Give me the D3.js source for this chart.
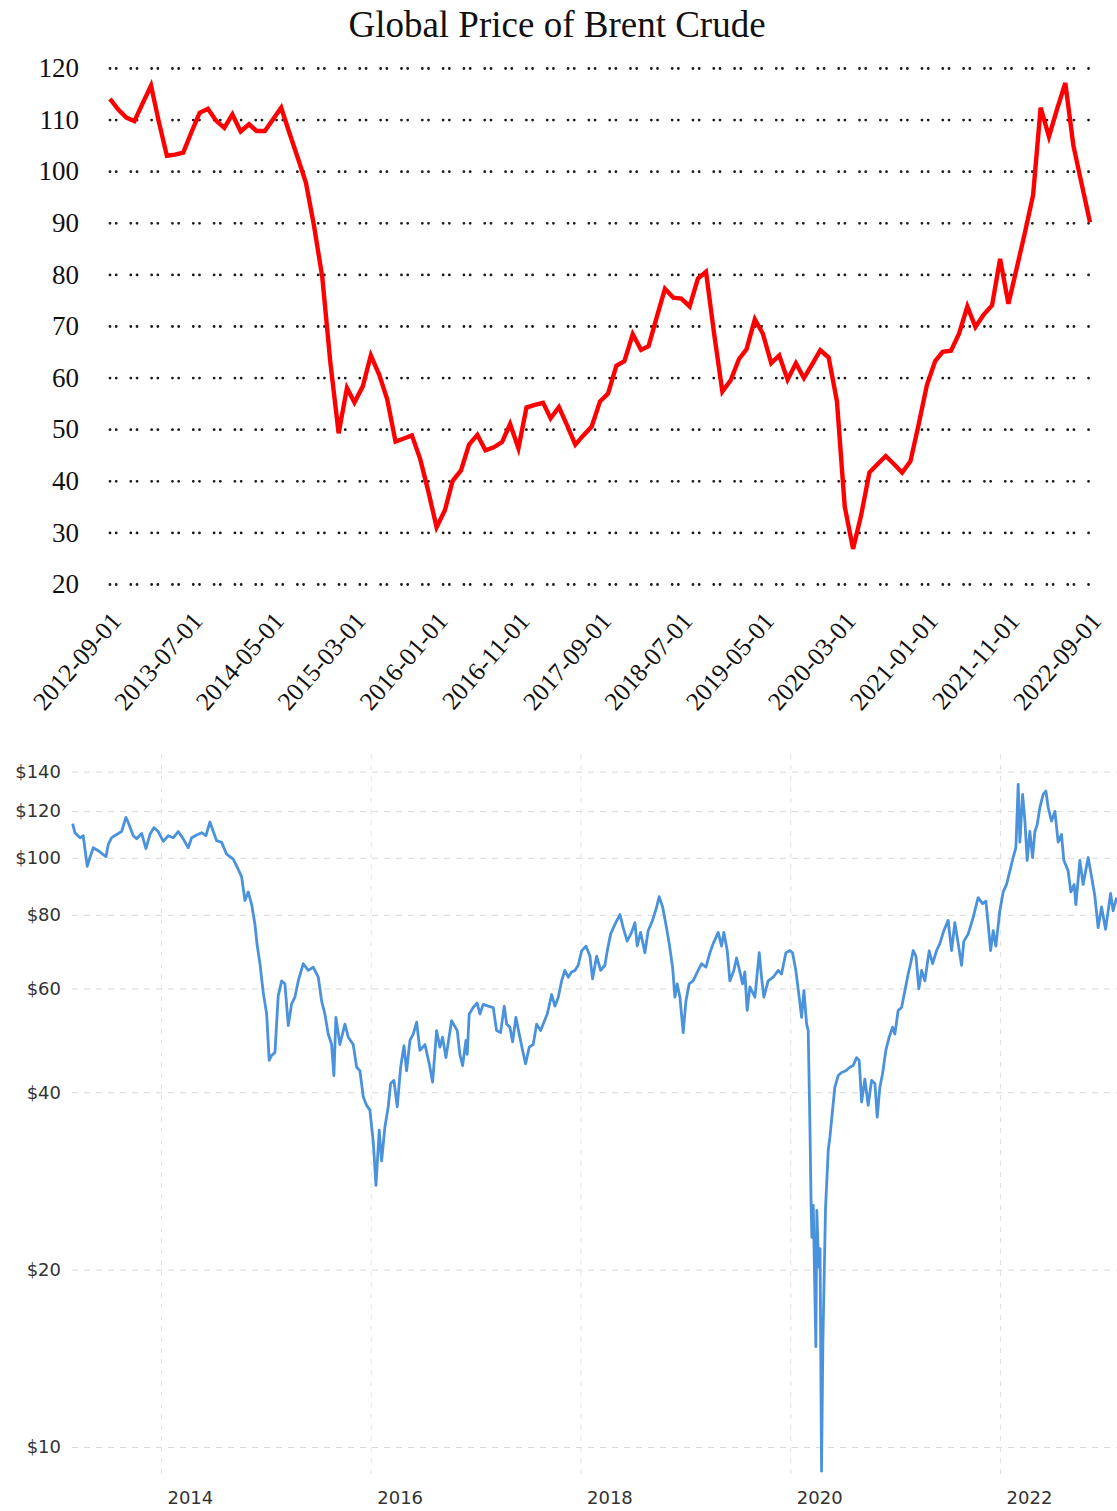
<!DOCTYPE html>
<html>
<head>
<meta charset="utf-8">
<script src="https://cdn.jsdelivr.net/npm/d3@7"></script>
<style>
body { margin: 0; background: #fff; }
svg { display: block; }
</style>
</head>
<body>
<svg id="chart" width="1117" height="1511"></svg>
<script>
// ---- top chart: monthly Brent, Sep 2012 .. Sep 2022
const topTitle = "Global Price of Brent Crude";
const topStart = "2012-09-01";
const topValues = [
  114.0, 112.0, 110.4, 109.7, 113.2, 116.6, 109.8, 103.0, 103.2, 103.6,
  107.5, 111.3, 112.1, 109.8, 108.4, 111.0, 107.7, 109.1, 107.8, 107.8,
  110.0, 112.3, 107.5, 102.7, 97.8, 89.5, 79.5, 63.0, 49.2, 58.0,
  55.2, 58.3, 64.3, 60.6, 55.8, 47.6, 48.2, 48.8, 44.2, 38.0,
  31.0, 34.3, 40.0, 42.0, 47.0, 48.9, 45.9, 46.5, 47.5, 51.0,
  46.3, 54.2, 54.7, 55.1, 52.1, 54.3, 50.8, 47.0, 48.8, 50.5,
  55.4, 56.9, 62.3, 63.2, 68.4, 65.4, 66.1, 71.8, 77.2, 75.5,
  75.3, 73.8, 79.2, 80.5, 68.2, 57.3, 59.5, 63.6, 65.5, 71.3,
  68.5, 62.8, 64.3, 59.6, 62.8, 59.9, 62.6, 65.3, 63.9, 55.4,
  35.0, 26.8, 33.3, 41.6, 43.2, 44.8, 43.2, 41.6, 43.8, 50.8,
  58.5, 63.2, 65.0, 65.2, 68.5, 73.8, 69.8, 72.2, 74.0, 83.0,
  74.3, 81.0, 88.0, 95.4, 112.3, 106.7, 112.0, 117.1, 105.0, 97.5,
  90.1
];
const topXTicks = ["2012-09-01", "2013-07-01", "2014-05-01", "2015-03-01", "2016-01-01",
  "2016-11-01", "2017-09-01", "2018-07-01", "2019-05-01", "2020-03-01",
  "2021-01-01", "2021-11-01", "2022-09-01"];
const topYTicks = [20, 30, 40, 50, 60, 70, 80, 90, 100, 110, 120];

// ---- bottom chart: daily-ish Brent (decimal year, USD)
const botYears = [
  2013.158, 2013.180, 2013.228, 2013.259, 2013.297, 2013.323, 2013.355, 2013.402, 2013.476, 2013.498,
  2013.530, 2013.578, 2013.625, 2013.666, 2013.688, 2013.736, 2013.768, 2013.816, 2013.857, 2013.895,
  2013.933, 2013.974, 2014.022, 2014.070, 2014.117, 2014.165, 2014.207, 2014.260, 2014.293, 2014.340,
  2014.388, 2014.429, 2014.467, 2014.499, 2014.531, 2014.579, 2014.626, 2014.689, 2014.727, 2014.769,
  2014.801, 2014.832, 2014.865, 2014.896, 2014.918, 2014.944, 2014.975, 2015.008, 2015.032, 2015.055,
  2015.087, 2015.118, 2015.151, 2015.182, 2015.214, 2015.246, 2015.277, 2015.309, 2015.357, 2015.404,
  2015.452, 2015.500, 2015.532, 2015.563, 2015.595, 2015.627, 2015.649, 2015.668, 2015.706, 2015.754,
  2015.786, 2015.833, 2015.866, 2015.897, 2015.929, 2015.961, 2015.992, 2016.024, 2016.050, 2016.081,
  2016.104, 2016.135, 2016.167, 2016.190, 2016.221, 2016.253, 2016.285, 2016.317, 2016.342, 2016.374,
  2016.405, 2016.438, 2016.469, 2016.517, 2016.558, 2016.590, 2016.628, 2016.660, 2016.685, 2016.717,
  2016.771, 2016.825, 2016.850, 2016.876, 2016.908, 2016.920, 2016.939, 2016.977, 2017.015, 2017.041,
  2017.072, 2017.120, 2017.168, 2017.200, 2017.238, 2017.273, 2017.296, 2017.327, 2017.353, 2017.384,
  2017.416, 2017.448, 2017.477, 2017.511, 2017.549, 2017.582, 2017.620, 2017.651, 2017.683, 2017.725,
  2017.756, 2017.788, 2017.820, 2017.851, 2017.883, 2017.915, 2017.947, 2017.978, 2018.011, 2018.052,
  2018.090, 2018.115, 2018.154, 2018.192, 2018.233, 2018.255, 2018.287, 2018.328, 2018.376, 2018.407,
  2018.445, 2018.487, 2018.519, 2018.541, 2018.573, 2018.614, 2018.645, 2018.687, 2018.726, 2018.750,
  2018.783, 2018.814, 2018.846, 2018.878, 2018.900, 2018.922, 2018.948, 2018.979, 2019.005, 2019.036,
  2019.074, 2019.122, 2019.155, 2019.196, 2019.234, 2019.265, 2019.313, 2019.345, 2019.367, 2019.399,
  2019.424, 2019.462, 2019.488, 2019.520, 2019.545, 2019.567, 2019.589, 2019.615, 2019.663, 2019.704,
  2019.726, 2019.748, 2019.789, 2019.837, 2019.885, 2019.917, 2019.958, 2019.996, 2020.022, 2020.053,
  2020.085, 2020.108, 2020.130, 2020.156, 2020.171, 2020.187, 2020.199, 2020.206, 2020.219, 2020.244,
  2020.253, 2020.271, 2020.284, 2020.298, 2020.311, 2020.336, 2020.362, 2020.378, 2020.403, 2020.425,
  2020.457, 2020.489, 2020.530, 2020.568, 2020.600, 2020.632, 2020.657, 2020.680, 2020.711, 2020.743,
  2020.775, 2020.807, 2020.829, 2020.854, 2020.880, 2020.911, 2020.943, 2020.975, 2020.997, 2021.029,
  2021.061, 2021.093, 2021.124, 2021.147, 2021.172, 2021.198, 2021.226, 2021.252, 2021.283, 2021.324,
  2021.357, 2021.395, 2021.426, 2021.464, 2021.505, 2021.538, 2021.569, 2021.601, 2021.633, 2021.655,
  2021.696, 2021.744, 2021.791, 2021.833, 2021.865, 2021.887, 2021.910, 2021.935, 2021.960, 2021.998,
  2022.030, 2022.062, 2022.094, 2022.125, 2022.151, 2022.173, 2022.189, 2022.215, 2022.237, 2022.259,
  2022.284, 2022.310, 2022.332, 2022.354, 2022.380, 2022.411, 2022.437, 2022.459, 2022.491, 2022.523,
  2022.554, 2022.586, 2022.608, 2022.649, 2022.675, 2022.706, 2022.723, 2022.761, 2022.792, 2022.840,
  2022.872, 2022.904, 2022.935, 2022.968, 2023.006, 2023.054, 2023.078, 2023.111
];
const botPrices = [
  114.3, 110.3, 108.1, 109.0, 96.7, 100.1, 104.0, 102.8, 100.4, 105.4,
  108.2, 109.5, 110.8, 117.1, 114.8, 109.0, 107.7, 110.0, 103.6, 109.5,
  112.5, 110.8, 106.6, 109.0, 108.1, 110.8, 108.1, 104.0, 108.1, 109.3,
  110.3, 109.0, 115.0, 110.8, 106.9, 106.2, 101.4, 99.5, 96.4, 92.9,
  84.6, 87.5, 83.3, 77.1, 70.9, 66.1, 59.1, 54.3, 45.3, 46.2,
  46.7, 58.3, 61.8, 61.1, 51.9, 56.5, 58.0, 61.8, 66.1, 64.4,
  65.2, 62.7, 57.1, 54.3, 50.2, 48.2, 42.7, 53.6, 48.2, 52.2,
  49.6, 48.2, 44.1, 43.5, 39.3, 38.0, 37.3, 33.0, 27.8, 34.5,
  30.6, 34.9, 37.8, 41.4, 41.9, 37.8, 44.1, 48.0, 43.5, 49.0,
  50.2, 52.6, 47.1, 48.2, 44.7, 41.6, 50.9, 47.7, 49.6, 45.8,
  52.9, 50.9, 46.4, 44.4, 49.0, 46.4, 54.3, 55.7, 56.7, 54.3,
  56.4, 56.0, 55.7, 50.9, 50.5, 56.0, 52.2, 51.6, 48.7, 53.6,
  50.2, 47.1, 44.7, 47.7, 48.2, 52.2, 50.9, 52.6, 54.3, 58.6,
  56.0, 58.0, 61.8, 64.4, 62.7, 64.0, 64.4, 65.7, 69.5, 70.8,
  68.1, 62.3, 68.1, 64.4, 65.7, 69.5, 74.2, 77.1, 80.1, 76.1,
  72.2, 74.7, 77.6, 70.9, 74.7, 69.0, 75.2, 78.3, 82.5, 85.9,
  82.5, 77.1, 71.5, 65.2, 58.0, 61.1, 58.0, 50.5, 57.1, 61.1,
  61.8, 64.4, 66.1, 65.2, 69.0, 71.5, 74.7, 70.8, 74.7, 69.6,
  61.8, 64.4, 67.6, 64.0, 61.1, 64.0, 55.1, 60.4, 58.0, 69.0,
  62.7, 58.0, 61.8, 62.7, 64.4, 63.5, 69.0, 69.6, 69.0, 64.4,
  58.0, 53.6, 59.5, 52.2, 50.9, 35.4, 25.5, 22.7, 25.7, 14.8,
  25.2, 20.2, 21.7, 9.1, 15.1, 25.4, 31.9, 33.6, 37.3, 40.8,
  42.7, 43.2, 43.5, 44.1, 44.4, 45.8, 45.3, 38.5, 42.1, 38.0,
  41.9, 41.4, 36.3, 40.8, 43.0, 47.1, 49.6, 51.6, 50.2, 55.1,
  55.7, 59.5, 63.5, 66.1, 69.6, 68.1, 59.9, 64.4, 61.8, 69.5,
  66.1, 69.6, 71.5, 75.2, 78.3, 69.6, 77.6, 71.5, 65.7, 72.2,
  74.2, 79.2, 85.6, 83.6, 84.4, 77.1, 69.6, 75.2, 70.8, 81.3,
  87.5, 90.1, 95.0, 100.1, 104.0, 133.2, 106.3, 128.1, 115.4, 99.0,
  110.8, 100.1, 110.8, 113.8, 121.7, 128.1, 129.8, 121.7, 115.4, 119.9,
  106.3, 109.5, 99.0, 95.0, 87.5, 90.1, 83.3, 99.0, 90.1, 100.1,
  92.9, 86.1, 76.1, 82.5, 75.6, 87.0, 81.3, 85.6
];
const botYTicks = [10, 20, 40, 60, 80, 100, 120, 140];
const botXTicks = [2014, 2016, 2018, 2020, 2022];

const svg = d3.select("#chart");
const parseDate = d3.timeParse("%Y-%m-%d");

/////////////// top chart
const t0 = parseDate(topStart);
const topData = topValues.map((v, i) => ({ date: d3.timeMonth.offset(t0, i), value: v }));

const xTop = d3.scaleTime()
    .domain([parseDate("2012-09-01"), parseDate("2022-09-01")])
    .range([110, 1090]);
const yTop = d3.scaleLinear()
    .domain([20, 120])
    .range([584, 68]);

svg.append("text")
    .attr("x", 557)
    .attr("y", 37)
    .attr("text-anchor", "middle")
    .style("font-family", "'Liberation Serif', 'Times New Roman', serif")
    .style("font-size", "37px")
    .style("fill", "#111")
    .text(topTitle);

// dotted grid, pairs of round dots
const topGrid = svg.append("g")
    .attr("transform", "translate(110,0)")
    .call(d3.axisLeft(yTop).tickValues(topYTicks).tickSize(-980).tickFormat(""));
topGrid.select(".domain").remove();
topGrid.selectAll("line")
    .attr("stroke", "#1a1a1a")
    .attr("stroke-width", 2.8)
    .attr("stroke-linecap", "round")
    .attr("stroke-dasharray", "0.01,6.2,0.01,14.6");

const topYAxis = svg.append("g")
    .attr("transform", "translate(107,0)")
    .call(d3.axisLeft(yTop).tickValues(topYTicks).tickSize(0).tickPadding(28));
topYAxis.select(".domain").remove();
topYAxis.selectAll("text")
    .style("font-family", "'Liberation Serif', 'Times New Roman', serif")
    .style("font-size", "27px")
    .style("fill", "#111");

const topXAxis = svg.append("g")
    .call(d3.axisBottom(xTop)
        .tickValues(topXTicks.map(parseDate))
        .tickFormat(d3.timeFormat("%Y-%m-%d"))
        .tickSize(0));
topXAxis.select(".domain").remove();
topXAxis.selectAll("text")
    .attr("y", 0)
    .attr("dy", 0)
    .attr("text-anchor", "end")
    .attr("transform", "translate(12,622) rotate(-49)")
    .style("font-family", "'Liberation Serif', 'Times New Roman', serif")
    .style("font-size", "25.5px")
    .style("fill", "#111");

const topLine = d3.line()
    .x(d => xTop(d.date))
    .y(d => yTop(d.value));

svg.append("path")
    .datum(topData)
    .attr("d", topLine)
    .attr("fill", "none")
    .attr("stroke", "#ff0000")
    .attr("stroke-width", 4.4)
    .attr("stroke-linejoin", "miter");

/////////////// bottom chart
const botData = botYears.map((yr, i) => ({ year: yr, price: botPrices[i] }));

const xBot = d3.scaleLinear()
    .domain([2013.152, 2023.115])
    .range([72, 1117]);
const yBot = d3.scaleLog()
    .domain([9, 150])
    .range([1474, 754]);

const hGrid = svg.append("g")
    .attr("transform", "translate(72,0)")
    .call(d3.axisLeft(yBot).tickValues(botYTicks).tickSize(-1045).tickFormat(""));
hGrid.select(".domain").remove();
hGrid.selectAll("line")
    .attr("stroke", "#d8d8d8")
    .attr("stroke-width", 1)
    .attr("stroke-dasharray", "6,6");

const vGrid = svg.append("g")
    .attr("transform", "translate(0,754)")
    .call(d3.axisBottom(xBot).tickValues(botXTicks).tickSize(720).tickFormat(""));
vGrid.select(".domain").remove();
vGrid.selectAll("line")
    .attr("stroke", "#e2e2e2")
    .attr("stroke-width", 1)
    .attr("stroke-dasharray", "5,6");

const botYAxis = svg.append("g")
    .attr("transform", "translate(72,0)")
    .call(d3.axisLeft(yBot).tickValues(botYTicks).tickFormat(d => "$" + d).tickSize(0).tickPadding(11));
botYAxis.select(".domain").remove();
botYAxis.selectAll("text")
    .style("font-family", "'DejaVu Sans', Verdana, sans-serif")
    .style("font-size", "18px")
    .style("fill", "#333");

const botXAxis = svg.append("g")
    .attr("transform", "translate(0,1474)")
    .call(d3.axisBottom(xBot).tickValues(botXTicks).tickFormat(d3.format("d")).tickSize(0));
botXAxis.select(".domain").remove();
botXAxis.selectAll("text")
    .attr("x", 6)
    .attr("y", 30)
    .attr("dy", 0)
    .attr("text-anchor", "start")
    .style("font-family", "'DejaVu Sans', Verdana, sans-serif")
    .style("font-size", "18px")
    .style("fill", "#333");

const botLine = d3.line()
    .x(d => xBot(d.year))
    .y(d => yBot(d.price));

svg.append("path")
    .datum(botData)
    .attr("d", botLine)
    .attr("fill", "none")
    .attr("stroke", "#4a92dc")
    .attr("stroke-width", 2.8)
    .attr("stroke-linejoin", "round");
</script>
</body>
</html>
